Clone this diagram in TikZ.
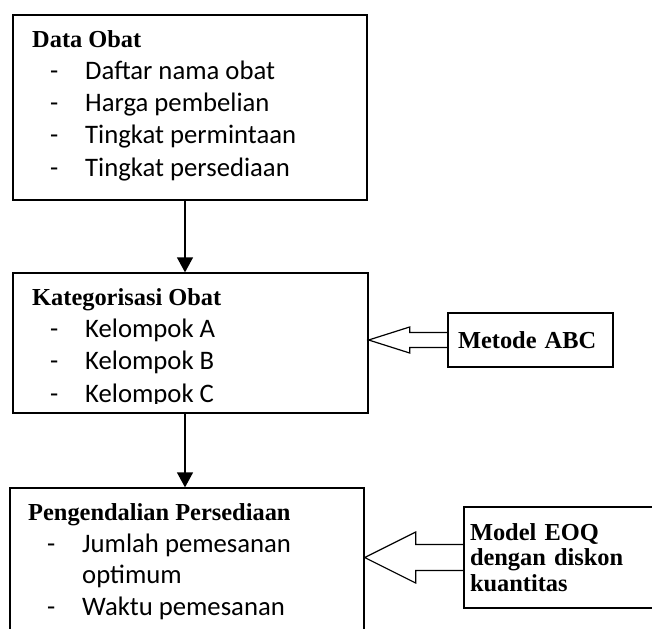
\documentclass[tikz,border=0pt]{standalone}
\usepackage{fontspec}
\setmainfont{Liberation Serif}
\newfontfamily\calibri{Carlito}
\usetikzlibrary{arrows.meta}
\usetikzlibrary{calc}

\tikzset{
  kotak/.style={draw=black,line width=1.3pt,rectangle,inner sep=0pt},
  judul/.style={font=\fontsize{24.4}{26}\selectfont\bfseries,anchor=base west,inner sep=0pt},
  butir/.style={font=\fontsize{26.7}{32}\selectfont\calibri,anchor=base west,inner sep=0pt},
  panah/.style={line width=1.3pt,-{Triangle[length=15pt,width=16pt]}},
  panahblok/.style={line width=1.2pt,line join=miter}
}

% dash + indented item text
\newcommand{\tanda}[1]{\makebox[35pt][l]{-}#1}
% open block arrow: from node, to node, shaft half, head half, head length
\newcommand{\panahkosong}[5]{%
  \draw[panahblok] ($(#1.west)+(0,-#3)$)
    -- ($(#2.east |- #1.west)+(#5,-#3)$)
    -- ($(#2.east |- #1.west)+(#5,-#4)$)
    -- (#2.east |- #1.west)
    -- ($(#2.east |- #1.west)+(#5,#4)$)
    -- ($(#2.east |- #1.west)+(#5,#3)$)
    -- ($(#1.west)+(0,#3)$);
}

\begin{document}
\begin{tikzpicture}[x=1pt,y=-1pt]
\useasboundingbox (0,0) rectangle (652,628);

\node[kotak,line width=1.6pt,minimum width=354pt,minimum height=185pt] (data) at (190,107.5) {};
\node[kotak,minimum width=355pt,minimum height=140pt] (kategori) at (190.5,343) {};
\node[kotak,minimum width=354pt,minimum height=212pt] (kendali) at (187,594) {};
\node[kotak,minimum width=165pt,minimum height=54pt,inner sep=10pt,text width=145pt,align=left,
  font=\fontsize{24.4}{26}\selectfont\bfseries] (abc) at (530.5,340) {Metode ABC};
\node[kotak,minimum width=196pt,minimum height=101pt,inner sep=6pt,text width=184pt,align=left,
  font=\fontsize{24.4}{25.5}\selectfont\bfseries] (eoq) at (562,557.5) {Model EOQ\\dengan diskon\\kuantitas};

\node[judul] (datajudul) at (32,48) {Data Obat};
\node[butir] (data1) at (50,80) {\tanda{Daftar nama obat}};
\node[butir] (data2) at (50,112) {\tanda{Harga pembelian}};
\node[butir] (data3) at (50,144) {\tanda{Tingkat permintaan}};
\node[butir] (data4) at (50,177) {\tanda{Tingkat persediaan}};

\begin{scope}
\clip (13,273) rectangle (368,403);
\node[judul] (katjudul) at (32,305) {Kategorisasi Obat};
\node[butir] (kat1) at (50,337) {\tanda{Kelompok A}};
\node[butir] (kat2) at (50,369) {\tanda{Kelompok B}};
\node[butir] (kat3) at (50,402) {\tanda{Kelompok C}};
\end{scope}

\node[judul] (kendalijudul) at (28,520) {Pengendalian Persediaan};
\node[butir] (kendali1) at (47,552) {\tanda{Jumlah pemesanan}};
\node[butir] (kendali1b) at (82,583) {optimum};
\node[butir] (kendali2) at (47,615) {\tanda{Waktu pemesanan}};

\coordinate (jalur) at (185,0);
\draw[panah] (data.south -| jalur) -- (kategori.north -| jalur);
\draw[panah] (kategori.south -| jalur) -- (kendali.north -| jalur);

\panahkosong{abc}{kategori}{7.5}{13}{41}
\panahkosong{eoq}{kendali}{13}{25.5}{51}

\end{tikzpicture}
\end{document}
